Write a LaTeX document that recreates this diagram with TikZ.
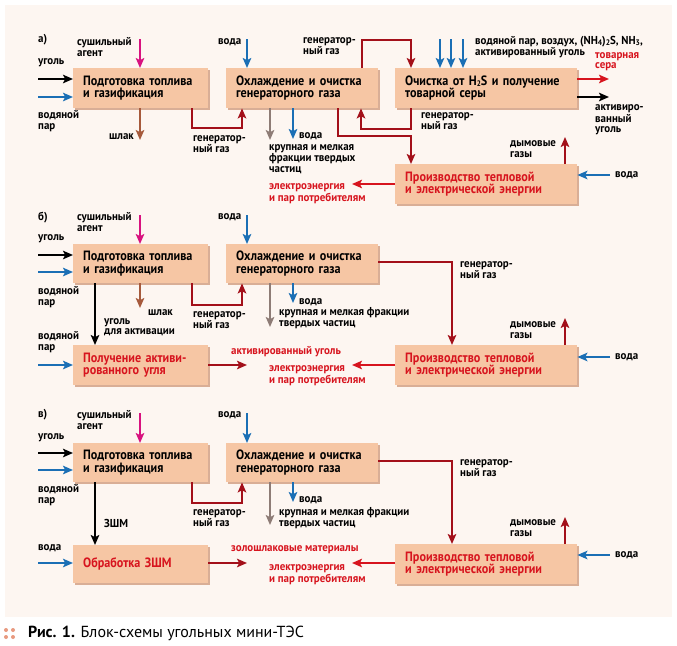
\documentclass[tikz,border=0pt]{standalone}
\usepackage{fontspec}
\setmainfont{PT Sans}[FakeStretch=0.9]
\newfontfamily\lblfont{PT Sans}[FakeStretch=0.95]
\newfontfamily\capfont{PT Sans}
\usetikzlibrary{arrows.meta,shadows}
\definecolor{bgc}{HTML}{FDF6F1}
\definecolor{boxc}{HTML}{F6C6A4}
\definecolor{shadc}{HTML}{D9AE96}
\definecolor{dred}{HTML}{A3101A}
\definecolor{tred}{HTML}{D7141E}
\definecolor{bluec}{HTML}{1B6FB5}
\definecolor{magc}{HTML}{D8127F}
\definecolor{brnc}{HTML}{A65A3C}
\definecolor{gryc}{HTML}{8E7C76}
\definecolor{dotc}{HTML}{E89A80}
\newcommand{\lowsub}[1]{\raisebox{-0.2ex}[0pt][0pt]{\footnotesize #1}}
\tikzset{
  box/.style={fill=boxc, general shadow={fill=shadc, shadow xshift=2pt, shadow yshift=-2pt},
    inner xsep=10pt, inner ysep=0pt, align=left, anchor=north west,
    font=\fontsize{13.5}{12.5}\selectfont\bfseries, minimum height=40pt},
  lbl/.style={anchor=west, align=left, inner sep=0pt, font=\lblfont\fontsize{11.5}{10.3}\selectfont\bfseries},
  rlbl/.style={lbl, text=tred},
  arr/.style={line width=2.1pt, -{Stealth[length=10pt,width=8.5pt,inset=2.2pt]}},
  darr/.style={arr, draw=dred},
  rarr/.style={arr, draw=tred},
  barr/.style={arr, draw=bluec},
  karr/.style={arr, draw=black},
  marr/.style={arr, draw=magc},
  brarr/.style={arr, draw=brnc},
  garr/.style={arr, draw=gryc},
}
\begin{document}
\begin{tikzpicture}[x=1pt,y=-1pt]
\useasboundingbox[fill=white] (0,0) rectangle (677,645);
\fill[bgc] (5,5) rectangle (672,617);

% ================= panel a =================
\node[box, text width=115pt] (a1) at (73,68) {Подготовка топлива\\и газификация};
\node[box, text width=132pt] (a2) at (226,68) {Охлаждение и очистка\\генераторного газа};
\node[box, text width=162pt] (a3) at (395,68) {Очистка от H\lowsub{2}S и получение\\товарной серы};
\node[box, text width=162pt, text=tred] (a4) at (395,164) {Производство тепловой\\и электрической энергии};

\node[lbl] (la0) at (38,40) {а)};
\node[lbl] (la1) at (77,47) {сушильный\\агент};
\coordinate (am) at (140,39);
\draw[marr] (am) -- (am |- a1.north);
\node[lbl] (la2) at (38,63) {уголь};
\coordinate (ak) at (38,79);
\draw[karr] (ak) -- (ak -| a1.west);
\coordinate (ab) at (38,97);
\draw[barr] (ab) -- (ab -| a1.west);
\node[lbl] (la3) at (38,121) {водяной\\пар};
\coordinate (as) at (140,140);
\draw[brarr] (as |- a1.south) -- (as);
\node[lbl, anchor=east] (la4) at (134,137) {шлак};
\coordinate (ag1) at (192,128);
\coordinate (ag2) at (242,128);
\draw[darr] (ag1 |- a1.south) -- (ag1) -- (ag2) -- (ag2 |- a2.south);
\node[lbl] (la5) at (193,144) {генератор-\\ный газ};
\node[lbl] (la6) at (218,42) {вода};
\coordinate (aw) at (247,39);
\draw[barr] (aw) -- (aw |- a2.north);
\coordinate (agr) at (270,140);
\draw[garr] (agr |- a2.south) -- (agr);
\coordinate (aw2) at (293,139);
\draw[barr] (aw2 |- a2.south) -- (aw2);
\node[lbl] (la7) at (299,136) {вода};
\node[lbl] (la8) at (269,159) {крупная и мелкая\\фракции твердых\\частиц};
\coordinate (at1) at (362,40);
\coordinate (at2) at (411,40);
\draw[darr] (at1 |- a2.north) -- (at1) -- (at2) -- (at2 |- a3.north);
\node[lbl] (la9) at (303,46) {генератор-\\ный газ};
\coordinate (ar1) at (411,129);
\coordinate (ar2) at (361,129);
\draw[darr] (ar1 |- a3.south) -- (ar1) -- (ar2) -- (ar2 |- a2.south);
\node[lbl] (la10) at (421,121) {генератор-\\ный газ};
\coordinate (ap1) at (338,136);
\coordinate (ap2) at (411,136);
\draw[darr] (ap1 |- a2.south) -- (ap1) -- (ap2) -- (ap2 |- a4.north);
\coordinate (ae) at (352,184);
\draw[rarr] (ae -| a4.west) -- (ae);
\node[rlbl] (la11) at (269,194) {электроэнергия\\и пар потребителям};
\foreach \xx/\nm in {440/ab1,451/ab2,463/ab3}{
  \coordinate (\nm) at (\xx,39);
  \draw[barr] (\nm) -- (\nm |- a3.north);
}
\node[lbl] (la12) at (475,47) {водяной пар, воздух, (NH\lowsub{4})\lowsub{2}S, NH\lowsub{3},\\активированный уголь};
\coordinate (asr) at (609,79);
\draw[rarr] (asr -| a3.east) -- (asr);
\node[rlbl] (la13) at (595,62) {товарная\\сера};
\coordinate (auk) at (609,97);
\draw[karr] (auk -| a3.east) -- (auk);
\node[lbl] (la14) at (595,120) {активиро-\\ванный\\уголь};
\coordinate (ad) at (565,137);
\draw[darr] (ad |- a4.north) -- (ad);
\node[lbl] (la15) at (510,149) {дымовые\\газы};
\coordinate (awr) at (610,175);
\draw[barr] (awr) -- (awr -| a4.east);
\node[lbl] (la16) at (615,175) {вода};

% ================= panel b =================
\node[box, text width=115pt, minimum height=39pt] (b1) at (73,244) {Подготовка топлива\\и газификация};
\node[box, text width=132pt, minimum height=39pt] (b2) at (226,244) {Охлаждение и очистка\\генераторного газа};
\node[box, text width=115pt, text=tred] (b3) at (73,345) {Получение активи-\\рованного угля};
\node[box, text width=162pt, text=tred] (b4) at (395,345) {Производство тепловой\\и электрической энергии};

\node[lbl] (lb0) at (38,218) {б)};
\node[lbl] (lb1) at (77,222) {сушильный\\агент};
\coordinate (bm) at (140,215);
\draw[marr] (bm) -- (bm |- b1.north);
\node[lbl] (lb2) at (38,239) {уголь};
\coordinate (bk) at (38,255);
\draw[karr] (bk) -- (bk -| b1.west);
\coordinate (bb) at (38,272);
\draw[barr] (bb) -- (bb -| b1.west);
\node[lbl] (lb3) at (38,297) {водяной\\пар};
\coordinate (bdn) at (95,300);
\draw[karr] (bdn |- b1.south) -- (bdn |- b3.north);
\node[lbl] (lb4) at (104,327) {уголь\\для активации};
\coordinate (bs) at (140,308);
\draw[brarr] (bs |- b1.south) -- (bs);
\node[lbl] (lb5) at (148,313) {шлак};
\coordinate (bg1) at (192,305);
\coordinate (bg2) at (242,305);
\draw[darr] (bg1 |- b1.south) -- (bg1) -- (bg2) -- (bg2 |- b2.south);
\node[lbl] (lb6) at (193,320) {генератор-\\ный газ};
\node[lbl] (lb7) at (218,217) {вода};
\coordinate (bw) at (247,215);
\draw[barr] (bw) -- (bw |- b2.north);
\coordinate (bgr) at (270,327);
\draw[garr] (bgr |- b2.south) -- (bgr);
\coordinate (bw2) at (293,303);
\draw[barr] (bw2 |- b2.south) -- (bw2);
\node[lbl] (lb8) at (299,302) {вода};
\node[lbl] (lb9) at (279,318) {крупная и мелкая фракции\\твердых частиц};
\coordinate (bt1) at (452,262);
\draw[darr] (bt1 -| b2.east) -- (bt1) -- (bt1 |- b4.north);
\node[lbl] (lb10) at (460,270) {генератор-\\ный газ};
\node[lbl] (lb11) at (38,342) {водяной\\пар};
\coordinate (bb2) at (38,365);
\draw[barr] (bb2) -- (bb2 -| b3.west);
\coordinate (bau) at (247,365);
\draw[darr] (bau -| b3.east) -- (bau);
\node[rlbl] (lb12) at (231,352) {активированный уголь};
\coordinate (be) at (352,365);
\draw[rarr] (be -| b4.west) -- (be);
\node[rlbl] (lb13) at (269,376) {электроэнергия\\и пар потребителям};
\coordinate (bd) at (565,318);
\draw[darr] (bd |- b4.north) -- (bd);
\node[lbl] (lb14) at (510,330) {дымовые\\газы};
\coordinate (bwr) at (610,357);
\draw[barr] (bwr) -- (bwr -| b4.east);
\node[lbl] (lb15) at (615,357) {вода};

% ================= panel c =================
\node[box, text width=115pt, minimum height=39pt] (c1) at (73,443) {Подготовка топлива\\и газификация};
\node[box, text width=132pt, minimum height=39pt] (c2) at (226,443) {Охлаждение и очистка\\генераторного газа};
\node[box, text width=115pt, text=tred, minimum height=38pt] (c3) at (73,545) {Обработка ЗШМ};
\node[box, text width=162pt, text=tred] (c4) at (395,544) {Производство тепловой\\и электрической энергии};

\node[lbl] (lc0) at (38,415) {в)};
\node[lbl] (lc1) at (77,420) {сушильный\\агент};
\coordinate (cm) at (140,413);
\draw[marr] (cm) -- (cm |- c1.north);
\node[lbl] (lc2) at (38,438) {уголь};
\coordinate (ck) at (38,453);
\draw[karr] (ck) -- (ck -| c1.west);
\coordinate (cb) at (38,470);
\draw[barr] (cb) -- (cb -| c1.west);
\node[lbl] (lc3) at (38,495) {водяной\\пар};
\coordinate (cdn) at (95,500);
\draw[karr] (cdn |- c1.south) -- (cdn |- c3.north);
\node[lbl] (lc4) at (104,523) {ЗШМ};
\coordinate (cg1) at (192,503);
\coordinate (cg2) at (242,503);
\draw[darr] (cg1 |- c1.south) -- (cg1) -- (cg2) -- (cg2 |- c2.south);
\node[lbl] (lc5) at (193,518) {генератор-\\ный газ};
\node[lbl] (lc6) at (218,415) {вода};
\coordinate (cw) at (247,413);
\draw[barr] (cw) -- (cw |- c2.north);
\coordinate (cgr) at (270,525);
\draw[garr] (cgr |- c2.south) -- (cgr);
\coordinate (cw2) at (293,502);
\draw[barr] (cw2 |- c2.south) -- (cw2);
\node[lbl] (lc7) at (299,500) {вода};
\node[lbl] (lc8) at (279,518) {крупная и мелкая фракции\\твердых частиц};
\coordinate (ct1) at (452,461);
\draw[darr] (ct1 -| c2.east) -- (ct1) -- (ct1 |- c4.north);
\node[lbl] (lc9) at (460,468) {генератор-\\ный газ};
\node[lbl] (lc10) at (38,548) {вода};
\coordinate (cb2) at (38,563);
\draw[barr] (cb2) -- (cb2 -| c3.west);
\coordinate (cz) at (247,563);
\draw[darr] (cz -| c3.east) -- (cz);
\node[rlbl] (lc11) at (231,550) {золошлаковые материалы};
\coordinate (ce) at (352,563);
\draw[rarr] (ce -| c4.west) -- (ce);
\node[rlbl] (lc12) at (269,575) {электроэнергия\\и пар потребителям};
\coordinate (cd) at (565,517);
\draw[darr] (cd |- c4.north) -- (cd);
\node[lbl] (lc13) at (510,528) {дымовые\\газы};
\coordinate (cwr) at (610,555);
\draw[barr] (cwr) -- (cwr -| c4.east);
\node[lbl] (lc14) at (615,555) {вода};

% ================= caption =================
\foreach \dx/\dy in {6/630,13/630,6/637,13/637}{
  \fill[dotc] (\dx,\dy) circle (2pt);
}
\node[anchor=west, inner sep=0pt, font=\capfont\fontsize{16}{16}\selectfont] (cap) at (28,633) {\textbf{Рис. 1.} Блок-схемы угольных мини-ТЭС};
\end{tikzpicture}
\end{document}
